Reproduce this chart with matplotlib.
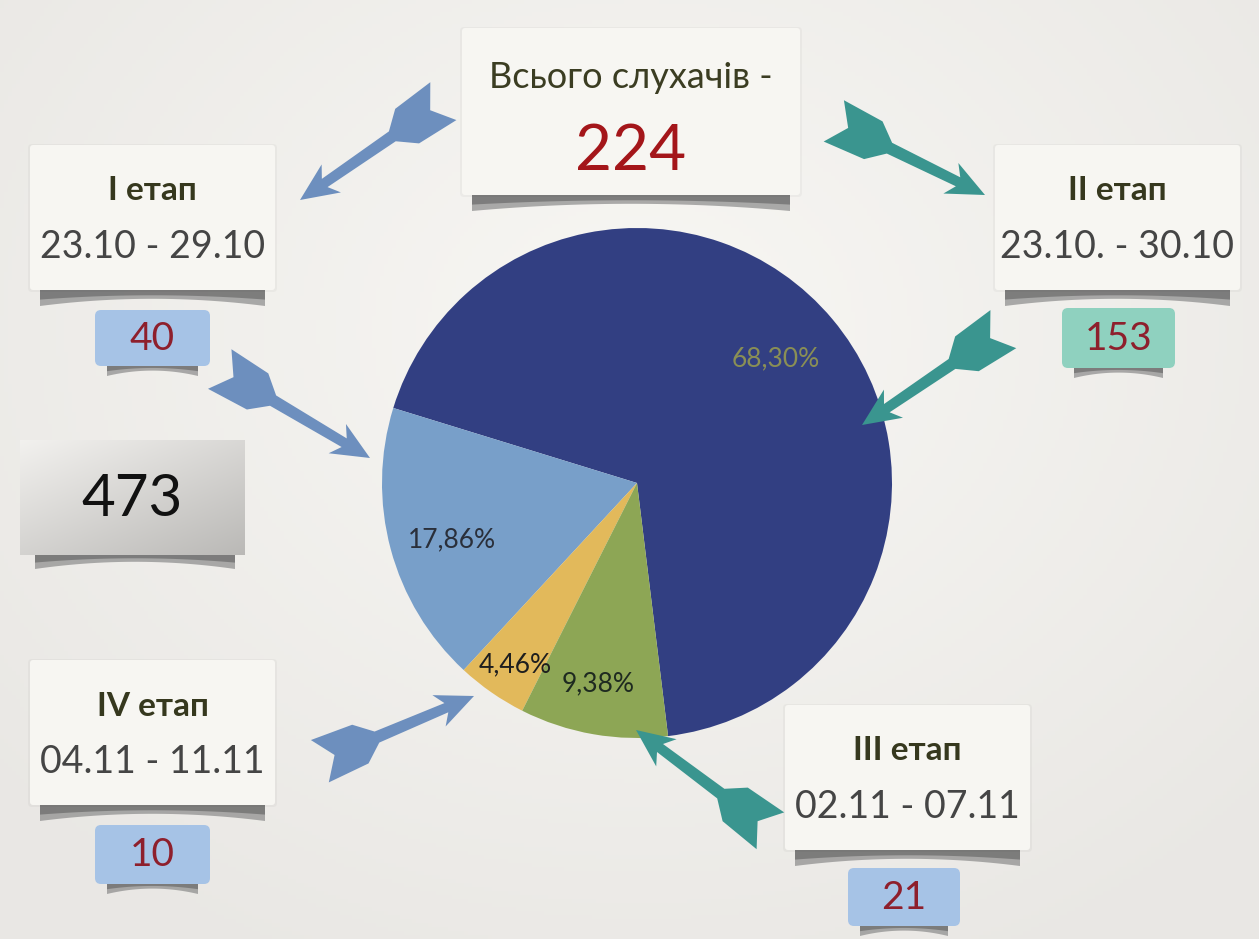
import numpy as np
import matplotlib
matplotlib.use("Agg")
import matplotlib.pyplot as plt
from matplotlib.patches import Polygon, FancyBboxPatch

# ------------------
# Data
# ------------------
stages = ["II етап", "I етап", "IV етап", "III етап"]
values = [153, 40, 10, 21]
colors = ["#323F82", "#789FC9", "#E2B95B", "#8DA655"]
total_label = 224
extra_value = 473

stage_names = ["I етап", "II етап", "III етап", "IV етап"]
stage_dates = ["23.10 - 29.10", "23.10. - 30.10", "02.11 - 07.11", "04.11 - 11.11"]
stage_values = [40, 153, 21, 10]

# ------------------
# Layout (pixel coords)
# ------------------
W, H = 1259, 939
CX, CY, R = 637, 483, 255
FONT = ["Lato", "DejaVu Sans"]

fig = plt.figure(figsize=(W / 100, H / 100), dpi=100)
bg = fig.add_axes([0, 0, 1, 1], zorder=0)
bg.set_xlim(0, W)
bg.set_ylim(H, 0)
bg.axis("off")

# background vignette
yy, xx = np.mgrid[0:H:4, 0:W:4]
d = np.sqrt(((xx - 640) / 850.0) ** 2 + ((yy - 330) / 700.0) ** 2)
d = np.clip(d, 0, 1)
c0 = np.array([0.972, 0.968, 0.955])
c1 = np.array([0.915, 0.908, 0.895])
img = c0[None, None, :] * (1 - d[..., None]) + c1[None, None, :] * d[..., None]
bg.imshow(img, extent=(0, W, H, 0), origin="upper", aspect="auto", zorder=0)


def curl(x0, x1, y, h=14, zorder=1):
    xs = np.linspace(x0, x1, 30)
    t = (xs - x0) / (x1 - x0)
    bottom = y + h * (0.55 + 0.45 * (2 * t - 1) ** 2)
    pts = [(x0, y)] + list(zip(xs, bottom)) + [(x1, y)]
    bg.add_patch(Polygon(pts, closed=True, fc="#8a8a8a", ec="none", alpha=0.7, zorder=zorder))
    bottom2 = y + 0.6 * h * (0.55 + 0.45 * (2 * t - 1) ** 2)
    pts2 = [(x0, y)] + list(zip(xs, bottom2)) + [(x1, y)]
    bg.add_patch(Polygon(pts2, closed=True, fc="#5a5a5a", ec="none", alpha=0.55, zorder=zorder))


def card(x0, y0, x1, y1, fc="#F7F6F2"):
    curl(x0 + 10, x1 - 10, y1, 16)
    bg.add_patch(FancyBboxPatch((x0 - 2, y0 - 1), x1 - x0 + 4, y1 - y0 + 3,
                                boxstyle="round,pad=0,rounding_size=4",
                                fc="#000000", ec="none", alpha=0.03, zorder=1.5))
    bg.add_patch(FancyBboxPatch((x0, y0), x1 - x0, y1 - y0,
                                boxstyle="round,pad=0,rounding_size=3",
                                fc=fc, ec="none", zorder=2))


def value_box(x0, y0, x1, y1, fc, text):
    curl(x0 + 12, x1 - 12, y1 - 2, 12)
    bg.add_patch(FancyBboxPatch((x0, y0), x1 - x0, y1 - y0,
                                boxstyle="round,pad=0,rounding_size=6",
                                fc=fc, ec="none", zorder=2))
    bg.text((x0 + x1) / 2, (y0 + y1) / 2 + 1, text, ha="center", va="center",
            fontsize=28, color="#8E1F2C", family=FONT, zorder=3)


def arrow(ax, tail, head, color):
    p0 = np.array(tail, float)
    p1 = np.array(head, float)
    u = (p1 - p0) / np.linalg.norm(p1 - p0)
    n = np.array([-u[1], u[0]])
    L = np.linalg.norm(p1 - p0)
    local = [(L, 0), (L - 38, 17), (L - 30, 5), (64, 6), (46, 21), (2, 23), (18, 0),
             (2, -23), (46, -21), (64, -6), (L - 30, -5), (L - 38, -17)]
    pts = [p0 + a * u + b * n for a, b in local]
    ax.add_patch(Polygon(pts, closed=True, fc=color, ec="none", zorder=5))


# ------------------
# Cards
# ------------------
card(462, 28, 800, 195)
bg.text(631, 78, "Всього слухачів -", ha="center", va="center", fontsize=26,
        color="#3B3D22", family=FONT, zorder=3)
bg.text(631, 152, str(total_label), ha="center", va="center", fontsize=46,
        color="#A4161A", family=FONT, zorder=3)

card_boxes = [(30, 145, 275, 290), (995, 145, 1240, 290), (785, 705, 1030, 850), (30, 660, 275, 805)]
vbox = [(95, 310, 210, 366), (1062, 308, 1175, 368), (848, 868, 960, 926), (95, 825, 210, 884)]
vcolor = ["#A6C3E6", "#8FD1BF", "#A6C3E6", "#A6C3E6"]
for (x0, y0, x1, y1), name, dt, (vx0, vy0, vx1, vy1), vc, v in zip(
        card_boxes, stage_names, stage_dates, vbox, vcolor, stage_values):
    card(x0, y0, x1, y1)
    bg.text((x0 + x1) / 2, y0 + 46, name, ha="center", va="center", fontsize=24,
            fontweight="bold", color="#36381E", family=FONT, zorder=3)
    bg.text((x0 + x1) / 2, y0 + 102, dt, ha="center", va="center", fontsize=27,
            fontweight="normal", color="#454545", family=FONT, zorder=3)
    value_box(vx0, vy0, vx1, vy1, vc, str(v))

# 473 box with grey gradient
curl(35, 235, 553, 16)
g = np.linspace(0, 1, 100)
gx = np.linspace(0, 1, 200)
shade = 0.12 * g[:, None] + 0.10 * gx[None, :]
gimg = np.stack([0.95 - shade, 0.945 - shade, 0.935 - shade], axis=-1)
bg.imshow(gimg, extent=(20, 245, 555, 440), origin="upper", aspect="auto", zorder=2)
bg.text(132, 500, str(extra_value), ha="center", va="center", fontsize=42,
        color="#111111", family=FONT, zorder=3)

# ------------------
# Pie
# ------------------
pax = fig.add_axes([(CX - R) / W, (H - CY - R) / H, 2 * R / W, 2 * R / H], zorder=1)
total = sum(values)
wedges, _ = pax.pie(values, colors=colors, startangle=277, counterclock=True,
                    radius=1, wedgeprops=dict(linewidth=0))
pax.set_xlim(-1, 1)
pax.set_ylim(-1, 1)
pax.set_aspect("equal")
pax.axis("off")

label_r = [0.73, 0.76, 0.86, 0.80]
label_shift = [2, 2, 1, -1]
label_col = ["#8A8F55", "#2A2F3A", "#1E1E1E", "#1E2A20"]
for w, v, r, s, lc in zip(wedges, values, label_r, label_shift, label_col):
    ang = np.deg2rad((w.theta1 + w.theta2) / 2 + s)
    pct = f"{v / total * 100 + 1e-9:.2f}%".replace(".", ",")
    pax.text(r * np.cos(ang), r * np.sin(ang), pct, ha="center", va="center",
             fontsize=19, fontweight="normal", color=lc, family=FONT)

# ------------------
# Arrows (overlay)
# ------------------
ov = fig.add_axes([0, 0, 1, 1], zorder=2)
ov.set_xlim(0, W)
ov.set_ylim(H, 0)
ov.axis("off")
ov.patch.set_alpha(0)

BLUE = "#6D8FBE"
TEAL = "#3A958F"
arrow(ov, (445, 100), (300, 200), BLUE)
arrow(ov, (832, 120), (985, 195), TEAL)
arrow(ov, (218, 368), (370, 458), BLUE)
arrow(ov, (1005, 328), (862, 425), TEAL)
arrow(ov, (318, 762), (474, 696), BLUE)
arrow(ov, (772, 832), (636, 730), TEAL)

fig.savefig("out.png", dpi=100)
